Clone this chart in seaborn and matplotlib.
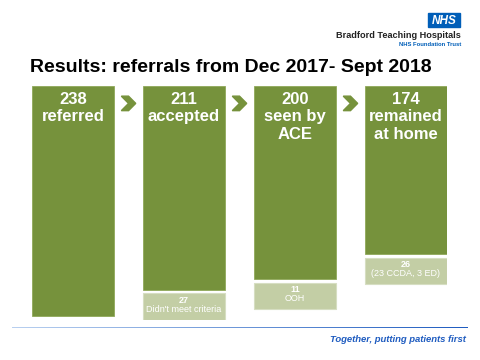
import matplotlib
matplotlib.use("Agg")
import matplotlib.pyplot as plt
from matplotlib.patches import Rectangle, Polygon
from matplotlib.colors import LinearSegmentedColormap
import numpy as np
import pandas as pd
import seaborn as sns

# data
stages = ["referred", "accepted", "seen by\nACE", "remained\nat home"]
counts = [238, 211, 200, 174]
dropped = [0, 27, 11, 26]
dropped_notes = ["", "Didn't meet criteria", "OOH", "(23 CCDA, 3 ED)"]

title = "Results: referrals from Dec 2017- Sept 2018"
strapline = "Together, putting patients first"

green = "#76923C"
pale = "#C3CEA5"
nhs_blue = "#005EB8"

sns.set_theme(style="white")
plt.rcParams["font.family"] = ["Liberation Sans", "DejaVu Sans"]

df = pd.DataFrame({"stage": stages, "count": counts, "dropped": dropped})

fig = plt.figure(figsize=(4.8, 3.6), dpi=100)
fig.patch.set_facecolor("white")

W, H = 480.0, 360.0
# main axes: bars hang down from the top
ax = fig.add_axes([32 / W, 1 - 320 / H, (447 - 32) / W, (320 - 86) / H])
sns.barplot(data=df, x="stage", y="count", color=green, width=0.74,
            edgecolor="#8FA85A", linewidth=0.6, saturation=1, ax=ax)

# pale label boxes under the bars for the ones that dropped out
gap, box_h = 3.5, 27
for i, d in enumerate(dropped):
    if not d:
        continue
    top = counts[i] + gap
    ax.bar(i, box_h, bottom=top, width=0.74, color=pale,
           edgecolor="#D6DEC2", linewidth=0.8)
    ax.text(i, top + 2.5, str(d), ha="center", va="top",
            color="white", fontsize=6.5, fontweight="bold")
    ax.text(i, top + 12, dropped_notes[i], ha="center", va="top",
            color="white", fontsize=6.5)

ax.set_xlim(-0.37, len(stages) - 0.63)
ax.set_ylim(242, 0)
ax.axis("off")

for i, (n, s) in enumerate(zip(counts, stages)):
    ax.text(i, 6, f"{n}\n{s}", ha="center", va="top", color="white",
            fontsize=12, fontweight="bold", linespacing=1.2)

# chevrons between the boxes
for i in range(len(stages) - 1):
    x0 = i + 0.5 - 0.065
    yc = 18
    pts = [(x0, yc - 7.5), (x0 + 0.065, yc - 7.5), (x0 + 0.13, yc),
           (x0 + 0.065, yc + 7.5), (x0, yc + 7.5), (x0 + 0.065, yc)]
    ax.add_patch(Polygon(pts, closed=True, color=green, clip_on=False))

# title
fig.text(30 / W, 1 - 68 / H, title, ha="left", va="center", fontsize=14,
         fontweight="bold", color="black")

# NHS logo block
fig.patches.append(Rectangle((428 / W, 1 - 27 / H), 32 / W, 14 / H,
                             transform=fig.transFigure, color=nhs_blue, figure=fig))
fig.text(444 / W, 1 - 20.5 / H, "NHS", ha="center", va="center", fontsize=8.5,
         fontweight="bold", fontstyle="italic", color="white")
fig.text(461 / W, 1 - 35 / H, "Bradford Teaching Hospitals", ha="right", va="center",
         fontsize=6.6, fontweight="bold", color="#222222")
fig.text(461 / W, 1 - 44 / H, "NHS Foundation Trust", ha="right", va="center",
         fontsize=4.2, fontweight="bold", color=nhs_blue)

# gradient rule at the bottom
lax = fig.add_axes([12 / W, 1 - 328.5 / H, 456 / W, 2 / H])
cmap = LinearSegmentedColormap.from_list("rule", ["#B9D0F0", "#1F5CC0"])
lax.imshow(np.linspace(0, 1, 256)[None, :], aspect="auto", cmap=cmap)
lax.axis("off")

fig.text(466 / W, 1 - 339.5 / H, strapline, ha="right", va="center", fontsize=6.8,
         fontweight="bold", fontstyle="italic", color="#1F5CC0")

fig.savefig("out.png", dpi=100, facecolor="white")
